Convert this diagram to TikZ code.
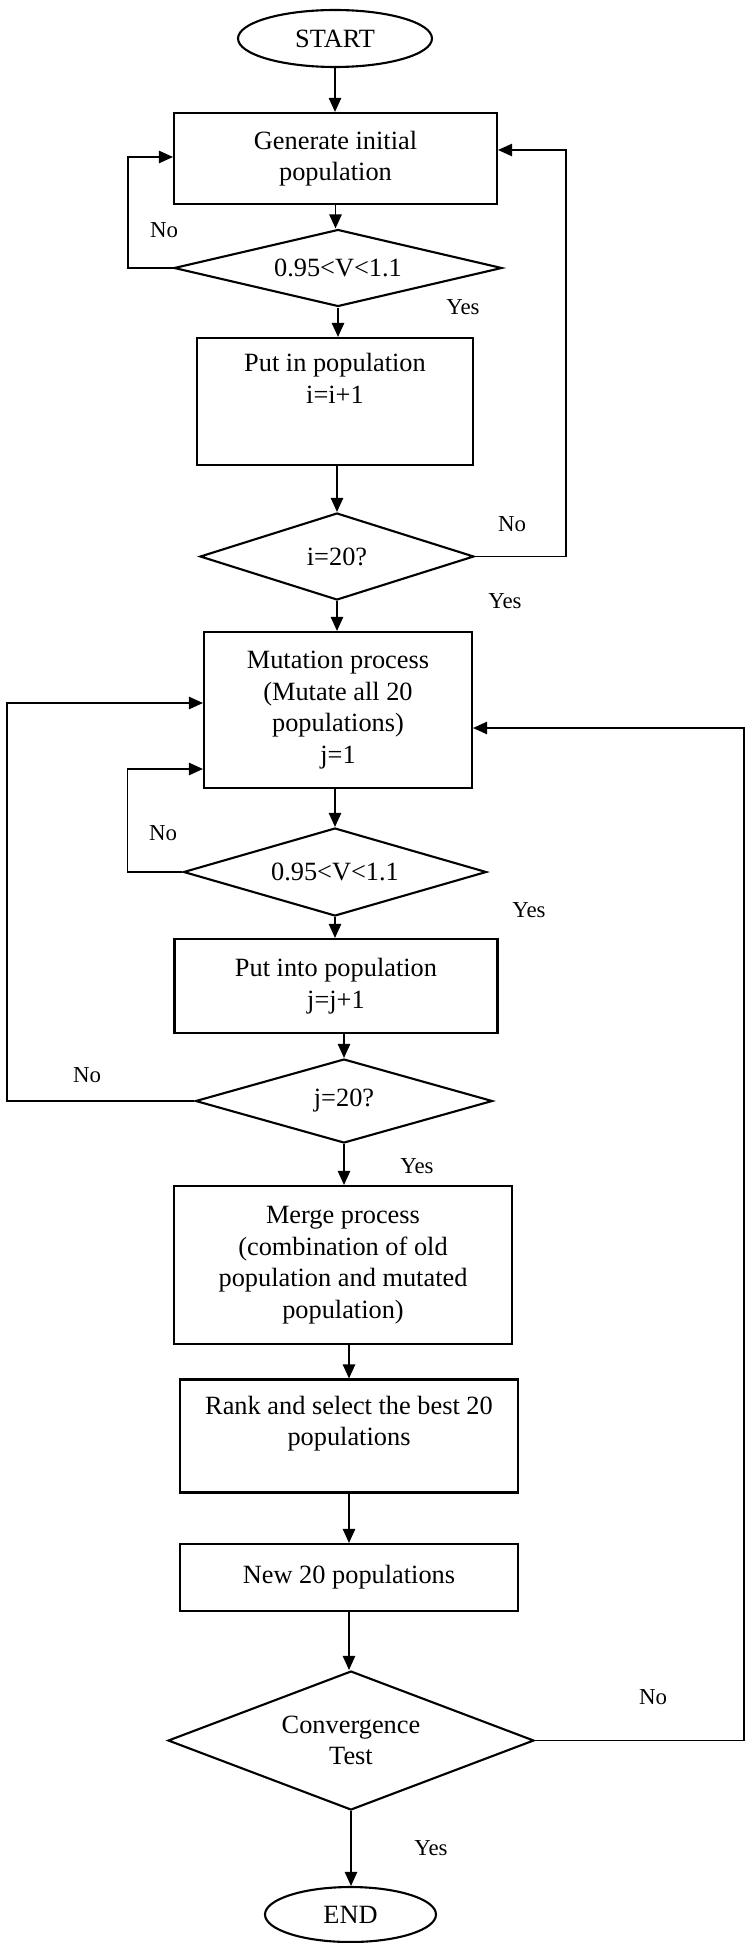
\documentclass[tikz,border=0pt]{standalone}
\usepackage{fontspec}
\setmainfont{Liberation Serif}
\usetikzlibrary{shapes.geometric,arrows.meta,calc}

\tikzset{
	box/.style={draw, line width=1.2pt, rectangle, align=center, inner sep=0pt},
	decision/.style={draw, line width=1.2pt, diamond, aspect=2.5, align=center, inner sep=0pt},
	terminal/.style={draw, line width=1.2pt, ellipse, inner sep=0pt},
	arr/.style={line width=1pt, -{Triangle[length=8pt,width=7pt]}},
	yesno/.style={font=\fontsize{13}{15}\selectfont, inner sep=0pt},
	toptext/.style={anchor=north, inner sep=0pt, align=center}
}

\begin{document}
\begin{tikzpicture}[x=0.02cm, y=-0.02cm, font=\fontsize{15}{18}\selectfont]
	\fill[white] (0,0) rectangle (746,1943);
	\useasboundingbox (0,0) rectangle (746,1943);

	% first loop: initial population
	\node[terminal, minimum width=3.88cm, minimum height=1.14cm] (start) at (335,38.5) {START};
	\node[box, minimum width=6.46cm, minimum height=1.82cm] (gen) at (335.5,158.5) {Generate initial\\population};
	\node[decision, minimum width=6.56cm, minimum height=1.54cm] (dec1) at (338,268) {0.95<V<1.1};
	\node[box, minimum width=5.52cm, minimum height=2.54cm,
		label={[toptext, yshift=-0.32cm]north:{Put in population\\i=i+1}}] (put) at (335,401.5) {};
	\node[decision, minimum width=5.48cm, minimum height=1.74cm] (dec2) at (337,556.5) {i=20?};

	% second loop: mutation
	\node[box, minimum width=5.36cm, minimum height=3.12cm] (mut) at (338,710) {Mutation process\\(Mutate all 20\\populations)\\j=1};
	\node[decision, minimum width=6.06cm, minimum height=1.76cm] (dec3) at (335,872) {0.95<V<1.1};
	\node[box, minimum width=6.46cm, minimum height=1.88cm] (putj) at (336,986) {Put into population\\j=j+1};
	\node[decision, minimum width=5.94cm, minimum height=1.68cm] (dec4) at (344,1101) {j=20?};

	% merge and selection
	\node[box, minimum width=6.76cm, minimum height=3.16cm] (merge) at (343,1265) {Merge process\\(combination of old\\population and mutated\\population)};
	\node[box, minimum width=6.76cm, minimum height=2.26cm,
		label={[toptext, yshift=-0.34cm]north:{Rank and select the best 20\\populations}}] (rank) at (349,1436) {};
	\node[box, minimum width=6.76cm, minimum height=1.34cm] (new) at (349,1577.5) {New 20 populations};
	\node[decision, minimum width=7.32cm, minimum height=2.78cm] (conv) at (351,1740.5) {Convergence\\Test};
	\node[terminal, minimum width=3.42cm, minimum height=1.10cm] (end) at (350.5,1914.5) {END};

	% main flow
	\draw[arr] (start.south) -- (start.south |- gen.north);
	\draw[arr] (gen.south) -- (gen.south |- dec1.north);
	\draw[arr] (dec1.south) -- (dec1.south |- put.north);
	\draw[arr] (dec2.north |- put.south) -- (dec2.north);
	\draw[arr] (dec2.south) -- (dec2.south |- mut.north);
	\draw[arr] (dec3.north |- mut.south) -- (dec3.north);
	\draw[arr] (dec3.south) -- (dec3.south |- putj.north);
	\draw[arr] (dec4.north |- putj.south) -- (dec4.north);
	\draw[arr] (dec4.south) -- (dec4.south |- merge.north);
	\draw[arr] (rank.north |- merge.south) -- (rank.north);
	\draw[arr] (rank.south) -- (new.north);
	\draw[arr] (new.south) -- (new.south |- conv.north);
	\draw[arr] (conv.south) -- (conv.south |- end.north);

	% feedback lines
	\coordinate (l1) at (128,157);
	\coordinate (r1) at (566,150);
	\coordinate (l2) at (127.5,769);
	\coordinate (l3) at (7,703);
	\coordinate (r2) at (744,728);
	\draw[arr] (dec1.west) -| (l1) -- (l1 -| gen.west);
	\draw[arr] (dec2.east) -| (r1) -- (r1 -| gen.east);
	\draw[arr] (dec3.west) -| (l2) -- (l2 -| mut.west);
	\draw[arr] (dec4.west) -| (l3) -- (l3 -| mut.west);
	\draw[arr] (conv.east) -| (r2) -- (r2 -| mut.east);

	% yes / no labels
	\node[yesno] (no1) at (164,230) {No};
	\node[yesno] (yes1) at (463,307) {Yes};
	\node[yesno] (no2) at (512,524) {No};
	\node[yesno] (yes2) at (505,601) {Yes};
	\node[yesno] (no3) at (163,833) {No};
	\node[yesno] (yes3) at (529,910) {Yes};
	\node[yesno] (no4) at (87,1075) {No};
	\node[yesno] (yes4) at (417,1166) {Yes};
	\node[yesno] (no5) at (653,1697) {No};
	\node[yesno] (yes5) at (431,1848) {Yes};
\end{tikzpicture}
\end{document}
